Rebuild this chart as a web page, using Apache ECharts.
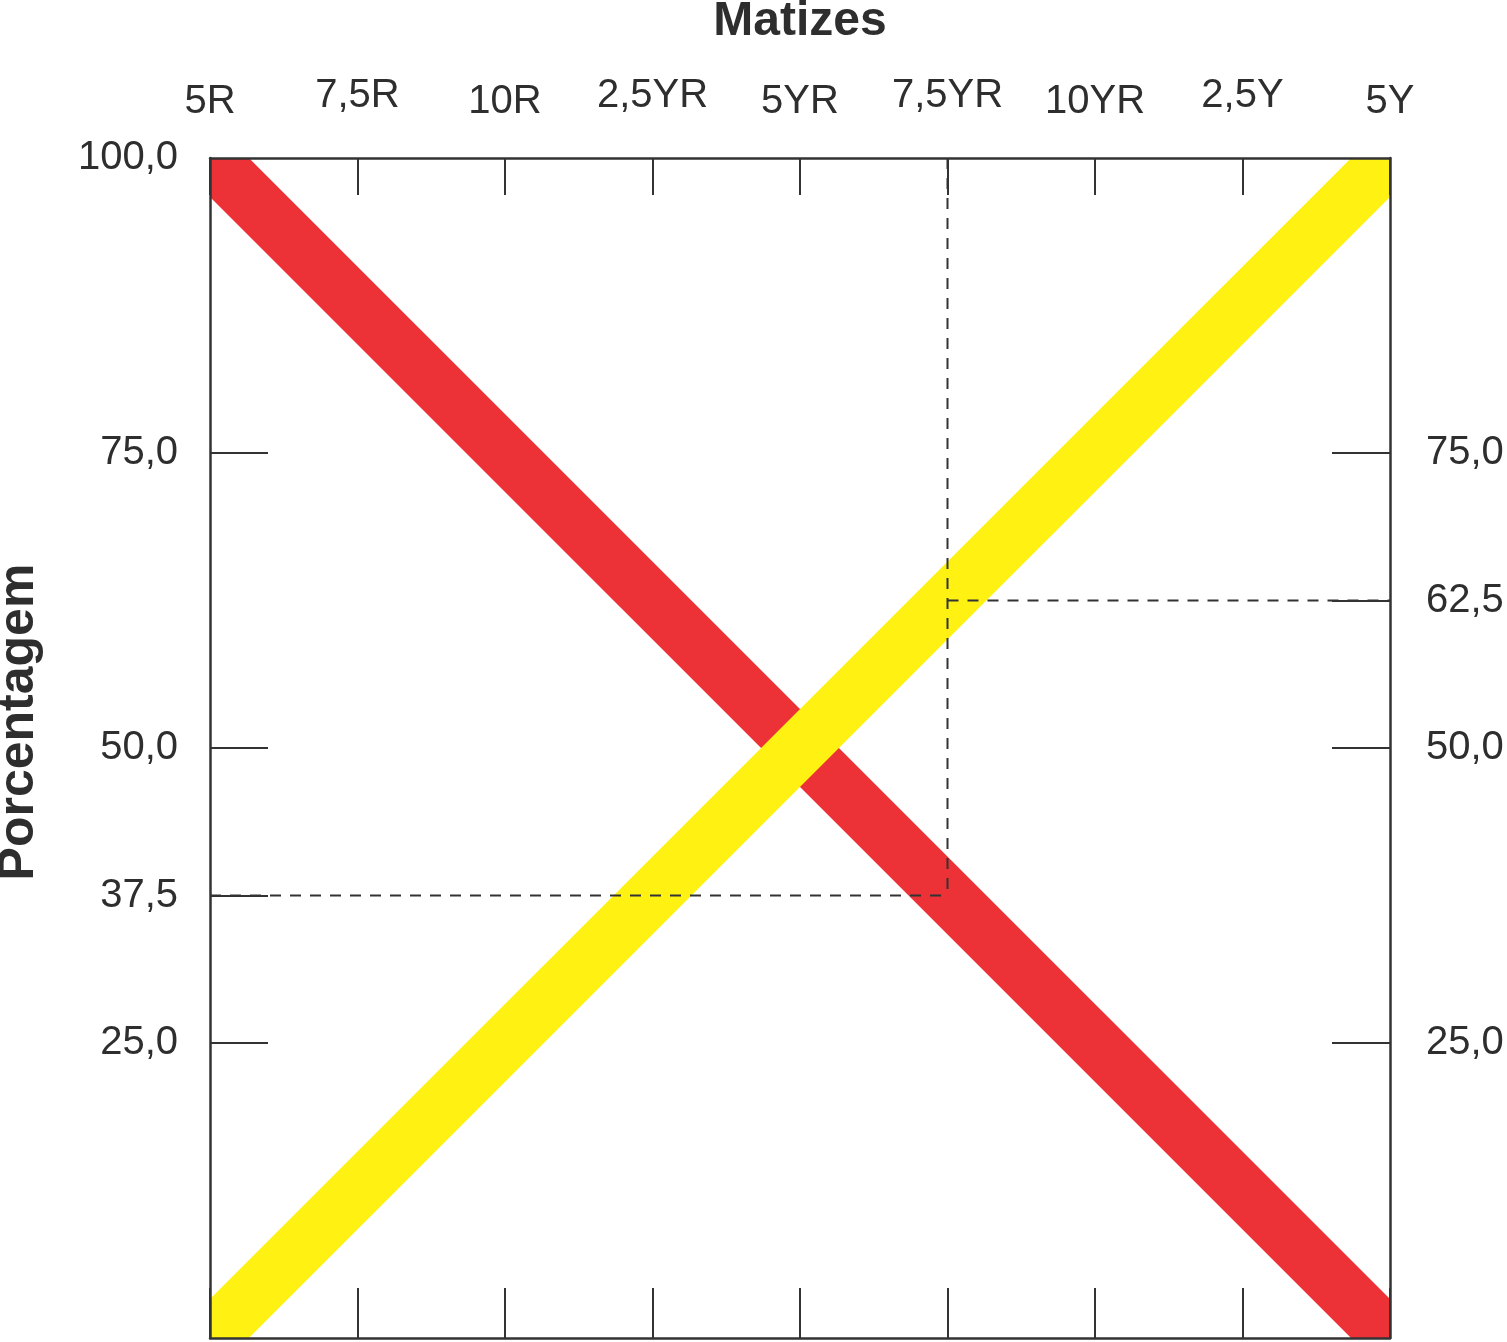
<!DOCTYPE html>
<html>
<head>
<meta charset="utf-8">
<script src="https://cdn.jsdelivr.net/npm/echarts@6/dist/echarts.min.js"></script>
<style>
html,body{margin:0;padding:0;background:#fff;}
#chart{width:1507px;height:1342px;}
</style>
</head>
<body>
<div id="chart"></div>
<script>
// Hue categories (x positions 0..8)
const hueLabels = ['5R', '7,5R', '10R', '2,5YR', '5YR', '7,5YR', '10YR', '2,5Y', '5Y'];
// Red share decreasing, yellow share increasing (percent)
const redSeries = [[0, 100], [8, 0]];
const yellowSeries = [[0, 0], [8, 100]];
// Dashed reading guides at 7,5YR
const guideVertical = [[5, 100], [5, 37.5]];
const guideLeft = [[0, 37.5], [5, 37.5]];
const guideRight = [[5, 62.5], [8, 62.5]];
// Tick values
const leftTickValues = [25, 37.5, 50, 75];
const leftLabelValues = [25, 37.5, 50, 75, 100];
const rightValues = [25, 50, 62.5, 75];

const TXT = '#2e2e2e';
const AX = '#333333';
const FONT = 'Liberation Sans, Arial, sans-serif';
const fmtPct = v => v.toFixed(1).replace('.', ',');

const chart = echarts.init(document.getElementById('chart'));
const dashStyle = { color: AX, width: 2, type: [11, 9] };

function bandSeries(name, pts, color, z) {
  return {
    type: 'custom', name: name, data: pts, clip: true, z: z,
    renderItem: (params, api) => {
      if (params.dataIndex !== 0) return null;
      const points = pts.map(p => api.coord(p));
      return {
        type: 'polyline',
        shape: { points: points },
        style: { stroke: color, lineWidth: 55, fill: null, lineCap: 'butt' }
      };
    }
  };
}

function axisLineCfg() {
  return { show: true, onZero: false, lineStyle: { color: AX, width: 2.5 } };
}

chart.setOption({
  animation: false,
  backgroundColor: '#fff',
  grid: { left: 210, top: 158, width: 1180, height: 1180, containLabel: false, outerBoundsMode: 'none' },
  xAxis: [
    {
      type: 'value', position: 'top', min: 0, max: 8, interval: 1, z: 3,
      name: 'Matizes', nameLocation: 'middle', nameGap: 112,
      nameTextStyle: { fontFamily: FONT, fontWeight: 'bold', fontSize: 48, color: TXT },
      axisLine: axisLineCfg(),
      axisTick: { show: true, inside: true, length: 37, lineStyle: { color: AX, width: 2 } },
      splitLine: { show: false },
      axisLabel: {
        margin: 36,
        formatter: v => {
          const i = Math.round(v);
          return (i % 2 === 0 ? '{lo|' : '{hi|') + hueLabels[i] + '}';
        },
        rich: {
          lo: { fontFamily: FONT, fontSize: 40, color: TXT, padding: [0, 0, 0, 0] },
          hi: { fontFamily: FONT, fontSize: 40, color: TXT, padding: [0, 0, 6, 0] }
        }
      }
    },
    {
      type: 'value', position: 'bottom', min: 0, max: 8, interval: 1, z: 3,
      axisLine: axisLineCfg(),
      axisTick: { show: true, inside: true, length: 50, lineStyle: { color: AX, width: 2 } },
      splitLine: { show: false },
      axisLabel: { show: false }
    }
  ],
  yAxis: [
    {
      type: 'value', position: 'left', min: 0, max: 100, z: 3,
      name: 'Porcentagem', nameLocation: 'middle', nameGap: 166,
      nameTextStyle: { fontFamily: FONT, fontWeight: 'bold', fontSize: 50, color: TXT, padding: [0, 0, 0, 52] },
      axisLine: axisLineCfg(),
      axisTick: { show: true, inside: true, length: 58, customValues: leftTickValues, lineStyle: { color: AX, width: 2 } },
      splitLine: { show: false },
      axisLabel: { margin: 32, customValues: leftLabelValues, formatter: fmtPct, fontFamily: FONT, fontSize: 40, color: TXT }
    },
    {
      type: 'value', position: 'right', min: 0, max: 100, z: 3,
      axisLine: axisLineCfg(),
      axisTick: { show: true, inside: true, length: 58, customValues: rightValues, lineStyle: { color: AX, width: 2 } },
      splitLine: { show: false },
      axisLabel: { margin: 36, customValues: rightValues, formatter: fmtPct, fontFamily: FONT, fontSize: 40, color: TXT }
    }
  ],
  series: [
    bandSeries('R', redSeries, '#ED3237', 1),
    bandSeries('Y', yellowSeries, '#FFF212', 2),
    { type: 'line', data: guideVertical, symbol: 'none', z: 4, lineStyle: dashStyle },
    { type: 'line', data: guideLeft, symbol: 'none', z: 4, lineStyle: dashStyle },
    { type: 'line', data: guideRight, symbol: 'none', z: 4, lineStyle: dashStyle }
  ]
});
</script>
</body>
</html>
